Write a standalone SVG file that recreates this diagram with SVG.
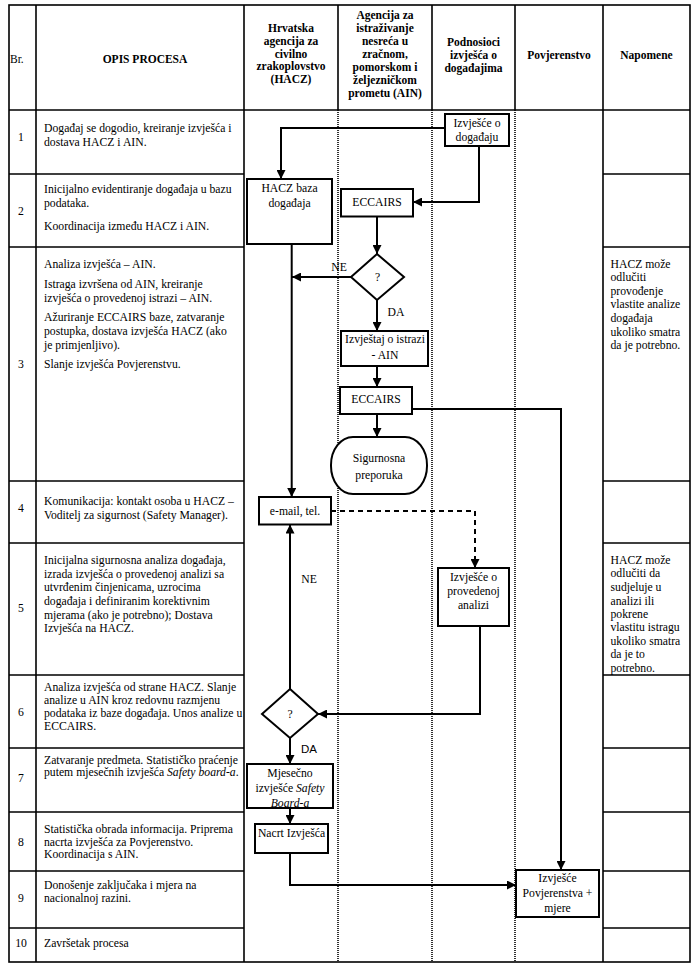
<svg xmlns="http://www.w3.org/2000/svg" width="700" height="972" viewBox="0 0 700 972">
<style>
text{font-family:"Liberation Serif","Times New Roman",serif;font-size:11.7px;fill:#000}
.h{font-weight:bold;text-anchor:middle;font-size:11.5px}
.c{text-anchor:middle}
.sans{font-family:"Liberation Sans",Arial,sans-serif;font-size:11.5px}
.it{font-style:italic}
.grid{stroke:#000;stroke-width:1.6;fill:none}
.dot{stroke:#000;stroke-width:1.6;stroke-dasharray:1 1;fill:none}
.box{fill:#fff;stroke:#000;stroke-width:2}
.conn{stroke:#000;stroke-width:2;fill:none;marker-end:url(#arr)}
.dash{stroke-dasharray:5 4}
</style>
<defs>
<marker id="arr" viewBox="0 0 10 10" refX="10" refY="5" markerWidth="9" markerHeight="9" markerUnits="userSpaceOnUse" orient="auto">
<path d="M0,0 L10,5 L0,10 z" fill="#000"/>
</marker>
</defs>
<rect width="700" height="972" fill="#fff"/>
<g id="table">
<rect class="grid" x="9" y="5" width="681" height="957"/>
<line class="grid" x1="36" y1="5" x2="36" y2="962"/>
<line class="grid" x1="244" y1="5" x2="244" y2="962"/>
<line class="grid" x1="603" y1="5" x2="603" y2="962"/>
<line class="grid" x1="338" y1="5" x2="338" y2="110"/>
<line class="grid" x1="432" y1="5" x2="432" y2="110"/>
<line class="grid" x1="515" y1="5" x2="515" y2="110"/>
<line class="dot" x1="338" y1="110" x2="338" y2="962"/>
<line class="dot" x1="432" y1="110" x2="432" y2="962"/>
<line class="dot" x1="515" y1="110" x2="515" y2="962"/>
<line class="grid" x1="9" y1="110" x2="690" y2="110"/>
<path class="grid" d="M9,174H244M9,247H244M9,481H244M9,543H244M9,675H244M9,748H244M9,812H244M9,871H244M9,928H244"/>
<path class="grid" d="M603,174H690M603,247H690M603,481H690M603,543H690M603,675H690M603,748H690M603,812H690M603,871H690M603,928H690"/>
</g>
<g id="header">
<text class="h" x="10" y="62.5" style="text-anchor:start;font-weight:normal">Br.</text>
<text class="h" x="145" y="62.5">OPIS PROCESA</text>
<text class="h" x="291"><tspan x="291" y="32">Hrvatska</tspan><tspan x="291" y="44.8">agencija za</tspan><tspan x="291" y="57.5">civilno</tspan><tspan x="291" y="70.3">zrakoplovstvo</tspan><tspan x="291" y="83">(HACZ)</tspan></text>
<text class="h" x="385"><tspan x="385" y="18.5">Agencija za</tspan><tspan x="385" y="31.6">istraživanje</tspan><tspan x="385" y="44.8">nesreća u</tspan><tspan x="385" y="57.9">zračnom,</tspan><tspan x="385" y="71.1">pomorskom i</tspan><tspan x="385" y="84.2">željezničkom</tspan><tspan x="385" y="97.4">prometu (AIN)</tspan></text>
<text class="h" x="473.5"><tspan x="473.5" y="45.7">Podnosioci</tspan><tspan x="473.5" y="58.7">izvješća o</tspan><tspan x="473.5" y="71.7">događajima</tspan></text>
<text class="h" x="559" y="59">Povjerenstvo</text>
<text class="h" x="646.5" y="59">Napomene</text>
</g>
<g id="rows">
<text class="c" x="21" y="140.7">1</text>
<text x="44"><tspan x="44" y="132">Događaj se dogodio, kreiranje izvješća i</tspan><tspan x="44" y="145.7">dostava HACZ i AIN.</tspan></text>
<text class="c" x="21" y="214.7">2</text>
<text x="44"><tspan x="44" y="193.3">Inicijalno evidentiranje događaja u bazu</tspan><tspan x="44" y="207.3">podataka.</tspan><tspan x="44" y="230">Koordinacija između HACZ i AIN.</tspan></text>
<text class="c" x="21" y="368">3</text>
<text x="44"><tspan x="44" y="268">Analiza izvješća – AIN.</tspan><tspan x="44" y="287.5">Istraga izvršena od AIN, kreiranje</tspan><tspan x="44" y="301.5">izvješća o provedenoj istrazi – AIN.</tspan><tspan x="44" y="321">Ažuriranje ECCAIRS baze, zatvaranje</tspan><tspan x="44" y="334.5">postupka, dostava izvješća HACZ (ako</tspan><tspan x="44" y="348.5">je primjenljivo).</tspan><tspan x="44" y="368">Slanje izvješća Povjerenstvu.</tspan></text>
<text class="c" x="21" y="512">4</text>
<text x="44"><tspan x="44" y="505">Komunikacija: kontakt osoba u HACZ –</tspan><tspan x="44" y="519">Voditelj za sigurnost (Safety Manager).</tspan></text>
<text class="c" x="21" y="612">5</text>
<text x="44"><tspan x="44" y="564">Inicijalna sigurnosna analiza događaja,</tspan><tspan x="44" y="577.5">izrada izvješća o provedenoj analizi sa</tspan><tspan x="44" y="591">utvrđenim činjenicama, uzrocima</tspan><tspan x="44" y="605">događaja i definiranim korektivnim</tspan><tspan x="44" y="618.5">mjerama (ako je potrebno); Dostava</tspan><tspan x="44" y="632">Izvješća na HACZ.</tspan></text>
<text class="c" x="21" y="715.7">6</text>
<text x="44"><tspan x="44" y="690.5">Analiza izvješća od strane HACZ. Slanje</tspan><tspan x="44" y="703.7">analize u AIN kroz redovnu razmjenu</tspan><tspan x="44" y="716.9">podataka iz baze događaja. Unos analize u</tspan><tspan x="44" y="730">ECCAIRS.</tspan></text>
<text class="c" x="21" y="782">7</text>
<text x="44"><tspan x="44" y="764">Zatvaranje predmeta. Statističko praćenje</tspan><tspan x="44" y="776">putem mjesečnih izvješća <tspan class="it">Safety board-a</tspan>.</tspan></text>
<text class="c" x="21" y="845.7">8</text>
<text x="44"><tspan x="44" y="833.3">Statistička obrada informacija. Priprema</tspan><tspan x="44" y="845.7">nacrta izvješća za Povjerenstvo.</tspan><tspan x="44" y="858">Koordinacija s AIN.</tspan></text>
<text class="c" x="21" y="902">9</text>
<text x="44"><tspan x="44" y="889">Donošenje zaključaka i mjera na</tspan><tspan x="44" y="902.3">nacionalnoj razini.</tspan></text>
<text class="c" x="21" y="947.3">10</text>
<text x="44" y="947.3">Završetak procesa</text>
</g>
<g id="notes">
<text x="610.5"><tspan x="610.5" y="268">HACZ može</tspan><tspan x="610.5" y="281.3">odlučiti</tspan><tspan x="610.5" y="295">provođenje</tspan><tspan x="610.5" y="308.3">vlastite analize</tspan><tspan x="610.5" y="322.3">događaja</tspan><tspan x="610.5" y="335.7">ukoliko smatra</tspan><tspan x="610.5" y="349">da je potrebno.</tspan></text>
<text x="610.5"><tspan x="610.5" y="564">HACZ može</tspan><tspan x="610.5" y="577.3">odlučiti da</tspan><tspan x="610.5" y="591.3">sudjeluje u</tspan><tspan x="610.5" y="604.7">analizi ili</tspan><tspan x="610.5" y="618">pokrene</tspan><tspan x="610.5" y="631.3">vlastitu istragu</tspan><tspan x="610.5" y="644.7">ukoliko smatra</tspan><tspan x="610.5" y="658">da je to</tspan><tspan x="610.5" y="672.3">potrebno.</tspan></text>
</g>
<g id="connectors">
<path class="conn" d="M445,128H281V179"/>
<path class="conn" d="M479,146V202H413"/>
<path class="conn" d="M377,216.5V254"/>
<path class="conn" d="M351,277H292"/>
<path class="conn" d="M377,300V331"/>
<path class="conn" d="M377,366V387"/>
<path class="conn" d="M412,409H561V870"/>
<path class="conn" d="M377,414V437"/>
<path class="conn" d="M291.7,244V497"/>
<path class="conn dash" d="M331,511H475V568"/>
<path class="conn" d="M480,626V714H318"/>
<path class="conn" d="M290,689V524.5"/>
<path class="conn" d="M290,738V764"/>
<path class="conn" d="M290,808V824"/>
<path class="conn" d="M290,853V885H516"/>
<text class="c" x="339" y="270.5">NE</text>
<text class="c" x="396" y="316">DA</text>
<text class="c" x="309" y="583">NE</text>
<text class="c sans" x="309" y="753">DA</text>
</g>
<g id="n-izvjesce-dogadaj">
<rect class="box" x="445" y="114" width="64" height="32"/>
<text class="c" x="477"><tspan x="477" y="126.5">Izvješće o</tspan><tspan x="477" y="141">događaju</tspan></text>
</g>
<g id="n-hacz-baza">
<rect class="box" x="247" y="179" width="85" height="65"/>
<text class="c" x="289.5"><tspan x="289.5" y="192">HACZ baza</tspan><tspan x="289.5" y="207">događaja</tspan></text>
</g>
<g id="n-eccairs1">
<rect class="box" x="341" y="189" width="72" height="27.5"/>
<text class="c" x="377" y="205.5">ECCAIRS</text>
</g>
<g id="n-decision1">
<polygon class="box" points="377,254 404,277 377,300 351,277"/>
<text class="c" x="377.5" y="281">?</text>
</g>
<g id="n-izvjestaj-istrazi">
<rect class="box" x="341" y="331" width="87" height="35"/>
<text class="c" x="385"><tspan x="385" y="343">Izvještaj o istrazi</tspan><tspan x="385" y="359">- AIN</tspan></text>
</g>
<g id="n-eccairs2">
<rect class="box" x="340" y="387" width="72" height="27"/>
<text class="c" x="376" y="403">ECCAIRS</text>
</g>
<g id="n-sigurnosna">
<rect class="box" x="331" y="437" width="96" height="57" rx="22" ry="28"/>
<text class="c" x="379"><tspan x="379" y="462">Sigurnosna</tspan><tspan x="379" y="479">preporuka</tspan></text>
</g>
<g id="n-email">
<rect class="box" x="259" y="497" width="72" height="27.5"/>
<text class="c" x="295" y="515">e-mail, tel.</text>
</g>
<g id="n-izvjesce-analizi">
<rect class="box" x="438" y="568" width="71" height="58"/>
<text class="c" x="473.5"><tspan x="473.5" y="581">Izvješće o</tspan><tspan x="473.5" y="595">provedenoj</tspan><tspan x="473.5" y="609">analizi</tspan></text>
</g>
<g id="n-decision2">
<polygon class="box" points="290,689 318,714 290,738 262,714"/>
<text class="c" x="290" y="718">?</text>
</g>
<g id="n-mjesecno">
<rect class="box" x="247" y="764" width="86" height="44"/>
<text class="c" x="290"><tspan x="290" y="777">Mjesečno</tspan><tspan x="290" y="792">izvješće <tspan class="it">Safety</tspan></tspan><tspan x="290" y="806.5" class="it">Board-a</tspan></text>
</g>
<g id="n-nacrt">
<rect class="box" x="255" y="824" width="73" height="29"/>
<text class="c" x="291.5" y="837">Nacrt Izvješća</text>
</g>
<g id="n-povjerenstvo">
<rect class="box" x="516" y="870" width="83" height="47"/>
<text class="c" x="557.5"><tspan x="557.5" y="882">Izvješće</tspan><tspan x="557.5" y="897">Povjerenstva +</tspan><tspan x="557.5" y="912">mjere</tspan></text>
</g>
</svg>
